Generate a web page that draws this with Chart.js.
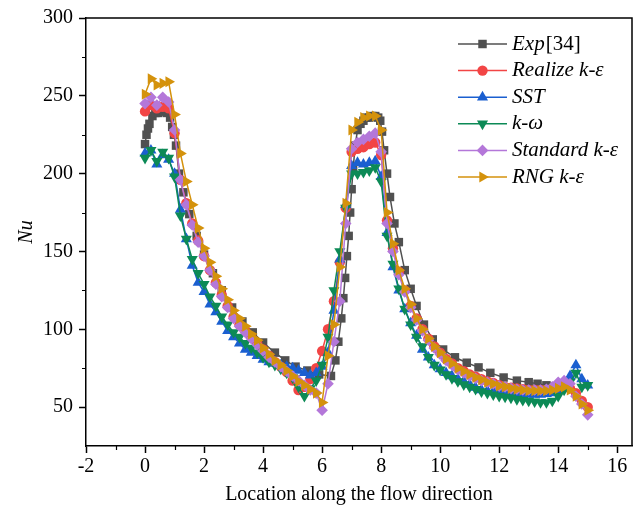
<!DOCTYPE html>
<html>
<head>
<meta charset="utf-8">
<script src="https://cdn.jsdelivr.net/npm/chart.js@4.4.1/dist/chart.umd.min.js"></script>
<style>
  html, body { margin: 0; padding: 0; background: #fff; }
  canvas { display: block; }
</style>
</head>
<body>
<canvas id="nuChart" width="641" height="511"></canvas>
<script>
// series names, legend order
const seriesNames = ['Exp[34]', 'Realize k-ε', 'SST', 'k-ω', 'Standard k-ε', 'RNG k-ε'];

// experiment (own x positions)
const expX = [0.00, 0.05, 0.10, 0.15, 0.25, 0.35, 0.45, 0.55, 0.65, 0.75, 0.85,
  0.92, 0.98, 1.05, 1.15, 1.3, 1.5, 1.75,
  2.0, 2.3, 2.6, 2.95, 3.3, 3.65, 4.0, 4.4, 4.75, 5.1, 5.5, 5.9, 6.3,
  6.45, 6.55, 6.65, 6.72, 6.78, 6.84, 6.9, 6.95, 7.0, 7.05, 7.12,
  7.2, 7.3, 7.4, 7.5, 7.6, 7.7, 7.8, 7.9, 7.97, 8.03, 8.1,
  8.2, 8.3, 8.45, 8.6, 8.8, 9.0, 9.2, 9.45, 9.75,
  10.1, 10.5, 10.9, 11.3, 11.7, 12.15, 12.6, 13.0, 13.3, 13.6, 13.85];
const expNu = [219, 225, 229, 232, 237, 239, 239, 240, 240, 239, 236,
  230, 225, 218, 200, 188, 174, 160,
  148, 136, 125, 114, 105, 98, 91.5, 85, 80, 76, 73.5, 71, 70,
  80, 92, 107, 120, 133, 147, 160, 175, 190, 203, 218,
  228, 232, 234, 236, 236, 237, 237, 236, 234, 227, 215,
  200, 185, 168, 156, 138, 126, 115, 103, 93.5,
  87, 82, 78.5, 75.5, 72, 69, 67, 66, 65, 64, 63];

// simulation results share one x grid
const cfdX = [0.0, 0.2, 0.4, 0.6, 0.8, 1.0, 1.2, 1.4, 1.6, 1.8,
  2.0, 2.2, 2.4, 2.6, 2.8, 3.0, 3.2, 3.4, 3.6, 3.8,
  4.0, 4.2, 4.4, 4.6, 4.8, 5.0, 5.2, 5.4, 5.6, 5.8,
  6.0, 6.2, 6.4, 6.6, 6.8, 7.0, 7.2, 7.4, 7.6, 7.8,
  8.0, 8.2, 8.4, 8.6, 8.8, 9.0, 9.2, 9.4, 9.6, 9.8,
  10.0, 10.2, 10.4, 10.6, 10.8, 11.0, 11.2, 11.4, 11.6, 11.8,
  12.0, 12.2, 12.4, 12.6, 12.8, 13.0, 13.2, 13.4, 13.6, 13.8,
  14.0, 14.2, 14.4, 14.6, 14.8, 15.0];

const realizeNu = [240, 244, 242, 243, 242, 226, 196, 181, 168, 157,
  147, 138, 130, 122, 115, 108, 103, 99, 95, 91,
  87, 83, 79, 76, 72.5, 67, 61, 63, 68, 75,
  86, 100, 118, 143, 178, 214, 216, 217, 219, 220,
  212, 170, 152, 137, 125, 115, 107, 100, 94, 89,
  85, 81, 78, 75, 73, 71, 69.5, 68, 66.5, 65.5,
  64, 63, 62.5, 62, 61.5, 61, 61, 61, 61, 61.5,
  62.5, 63, 62, 59, 54, 50];

const sstNu = [213, 215, 206, 212, 209, 200, 177, 158, 141, 130,
  124, 116, 111, 105, 99, 95, 91, 87, 85, 83,
  80.5, 79, 78, 77, 76, 75, 73.5, 72, 70.5, 72,
  76, 85, 112, 145, 180, 205, 207, 206, 207, 208,
  198, 162, 140, 125, 113, 104, 96, 87, 82, 77,
  74.5, 72, 70, 68, 66.5, 64.5, 62.5, 61, 60.5, 60,
  59.5, 59, 59, 58.5, 58.5, 58, 58, 58, 58.5, 59,
  61, 64, 70, 77, 68, 64];

const kwNu = [210, 215, 208, 214, 210, 198, 173, 158, 145, 136,
  129, 121, 115, 108, 103, 98, 95, 91, 88, 85,
  82, 79, 77, 74.5, 72, 69, 63, 57, 62, 67,
  77, 95, 125, 150, 178, 200, 200, 201, 202, 204,
  195, 160, 142, 126, 113, 103, 95, 89, 82, 77,
  74, 71, 68.5, 66.5, 64.5, 63, 61.5, 60, 59, 58,
  57, 56.5, 56, 55, 54.5, 54, 53.5, 53, 53, 54,
  57, 61, 66, 72, 63, 64];

const standardNu = [245, 249, 244, 249, 246, 228, 196, 180, 167, 156,
  147, 138, 129, 121, 114, 107, 102, 98, 94, 90,
  86, 82, 79, 76, 73, 70, 67, 64, 61, 59,
  48, 65, 92, 118, 168, 216, 220, 222, 224, 226,
  214, 168, 150, 135, 124, 114, 106, 99, 93, 88,
  84, 80, 77, 74, 72, 70, 68.5, 67, 66, 65,
  63.5, 63, 62, 61.5, 61, 61, 61, 61, 61.5, 63,
  66, 67, 65, 57, 52, 45];

const rngNu = [251, 261, 257, 258, 259, 238, 213, 195, 180, 165,
  152, 143, 134, 126, 119, 112, 107, 102, 97, 93,
  88, 84, 80, 77, 73.5, 70, 66.5, 64, 61.5, 59,
  53, 83, 103, 140, 181, 228, 233, 236, 237, 237,
  228, 175, 155, 138, 126, 116, 107, 100, 94, 89,
  85, 81, 78, 75, 73, 71, 69, 67.5, 66, 65,
  63.5, 63, 62, 61.5, 61, 60.5, 60.5, 60.5, 60.5, 61,
  62, 63, 61, 57, 52, 48];

// axis ticks
const xTicks = [-2, 0, 2, 4, 6, 8, 10, 12, 14, 16];
const xMinor = [-1, 1, 3, 5, 7, 9, 11, 13, 15];
const yTicks = [50, 100, 150, 200, 250, 300];
const yMinor = [75, 125, 175, 225, 275];

const serif = '"Liberation Serif", "Times New Roman", serif';

// marker look per series (same order as seriesNames)
const looks = [
  { color: '#505050', shape: 'rect', rot: 0, r: 6 },
  { color: '#F24545', shape: 'circle', rot: 0, r: 5.2 },
  { color: '#1A5FD0', shape: 'triangle', rot: 0, r: 6.4 },
  { color: '#0C8A56', shape: 'triangle', rot: 180, r: 6.4 },
  { color: '#B477D9', shape: 'rectRot', rot: 0, r: 5.8 },
  { color: '#D4920C', shape: 'triangle', rot: 90, r: 6.4 }
];

const pts = (xs, ys) => xs.map((x, i) => ({ x: x, y: ys[i] }));
const seriesData = [
  pts(expX, expNu),
  pts(cfdX, realizeNu),
  pts(cfdX, sstNu),
  pts(cfdX, kwNu),
  pts(cfdX, standardNu),
  pts(cfdX, rngNu)
];

const datasets = seriesData.map((d, i) => ({
  label: seriesNames[i],
  data: d,
  borderColor: looks[i].color,
  backgroundColor: looks[i].color,
  pointBackgroundColor: looks[i].color,
  pointBorderColor: looks[i].color,
  pointBorderWidth: 0,
  pointStyle: looks[i].shape,
  pointRotation: looks[i].rot,
  pointRadius: looks[i].r,
  borderWidth: 1.5,
  tension: 0,
  order: seriesNames.length - i // later series drawn on top
}));

// top/right frame lines and small ticks
const framePlugin = {
  id: 'frame',
  afterDraw(chart) {
    const { ctx, chartArea: a, scales } = chart;
    ctx.save();
    ctx.strokeStyle = '#000';
    ctx.lineWidth = 1.5;
    ctx.beginPath();
    ctx.moveTo(a.left, a.top);
    ctx.lineTo(a.right, a.top);
    ctx.lineTo(a.right, a.bottom);
    ctx.stroke();
    ctx.lineWidth = 1.2;
    ctx.beginPath();
    xMinor.forEach(v => {
      const px = Math.round(scales.x.getPixelForValue(v)) + 0.5;
      ctx.moveTo(px, a.bottom);
      ctx.lineTo(px, a.bottom + 4);
    });
    yMinor.forEach(v => {
      const py = Math.round(scales.y.getPixelForValue(v)) + 0.5;
      ctx.moveTo(a.left, py);
      ctx.lineTo(a.left - 4, py);
    });
    ctx.stroke();
    ctx.restore();
  }
};

// legend with a line through each marker, names in italic
const legendPlugin = {
  id: 'lineLegend',
  afterDraw(chart) {
    const ctx = chart.ctx;
    ctx.save();
    ctx.textBaseline = 'middle';
    chart.data.datasets.forEach((ds, i) => {
      const y = 44 + i * 26.6;
      ctx.strokeStyle = ds.borderColor;
      ctx.lineWidth = 1.5;
      ctx.beginPath();
      ctx.moveTo(458, y);
      ctx.lineTo(507, y);
      ctx.stroke();
      ctx.fillStyle = ds.pointBackgroundColor;
      Chart.helpers.drawPoint(ctx, {
        pointStyle: ds.pointStyle,
        rotation: ds.pointRotation,
        radius: ds.pointRadius,
        borderWidth: 0
      }, 482.5, y);
      const m = ds.label.match(/^(.*?)(\[.*\])?$/);
      ctx.fillStyle = '#000';
      ctx.font = 'italic 21px ' + serif;
      ctx.fillText(m[1], 512, y);
      if (m[2]) {
        const w = ctx.measureText(m[1]).width;
        ctx.font = '21px ' + serif;
        ctx.fillText(m[2], 512 + w + 1, y);
      }
    });
    ctx.restore();
  }
};

new Chart(document.getElementById('nuChart'), {
  type: 'line',
  data: { datasets: datasets },
  plugins: [framePlugin, legendPlugin],
  options: {
    responsive: false,
    animation: false,
    devicePixelRatio: 1,
    layout: { padding: { top: 15, right: 9, left: 0, bottom: 0 } },
    plugins: {
      legend: { display: false },
      tooltip: { enabled: false }
    },
    scales: {
      x: {
        type: 'linear',
        min: -2,
        max: 16.5,
        afterBuildTicks: s => { s.ticks = xTicks.map(v => ({ value: v })); },
        afterFit: s => { s.height = 65; },
        grid: { drawOnChartArea: false, drawTicks: true, tickLength: 7, tickWidth: 1.5, tickColor: '#000' },
        border: { display: true, color: '#000', width: 1.5 },
        ticks: { color: '#000', font: { family: serif, size: 20 }, padding: 2, maxRotation: 0, autoSkip: false },
        title: {
          display: true,
          text: 'Location along the flow direction',
          color: '#000',
          font: { family: serif, size: 20 },
          padding: { top: 4, bottom: 4 }
        }
      },
      y: {
        min: 25,
        max: 300,
        afterBuildTicks: s => { s.ticks = yTicks.map(v => ({ value: v })); },
        afterFit: s => { s.width = 86; },
        grid: { drawOnChartArea: false, drawTicks: true, tickLength: 7, tickWidth: 1.5, tickColor: '#000' },
        border: { display: true, color: '#000', width: 1.5 },
        ticks: { color: '#000', font: { family: serif, size: 20 }, padding: 6 },
        title: {
          display: true,
          text: 'Nu',
          color: '#000',
          font: { family: serif, size: 20, style: 'italic' },
          padding: { top: 15, bottom: 15 }
        }
      }
    }
  }
});
</script>
</body>
</html>
